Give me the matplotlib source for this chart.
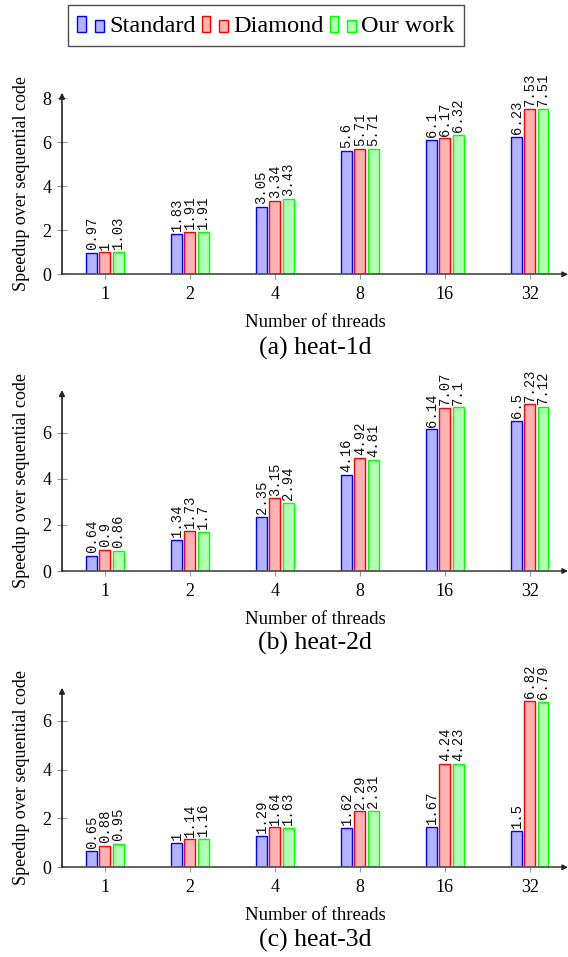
import matplotlib
matplotlib.use("Agg")
import matplotlib.pyplot as plt
from matplotlib.legend_handler import HandlerBase
from matplotlib.patches import Rectangle
import numpy as np

threads = ["1", "2", "4", "8", "16", "32"]
series_names = ["Standard", "Diamond", "Our work"]

heat1d_standard = [0.97, 1.83, 3.05, 5.6, 6.1, 6.23]
heat1d_diamond = [1, 1.91, 3.34, 5.71, 6.17, 7.53]
heat1d_ours = [1.03, 1.91, 3.43, 5.71, 6.32, 7.51]

heat2d_standard = [0.64, 1.34, 2.35, 4.16, 6.14, 6.5]
heat2d_diamond = [0.9, 1.73, 3.15, 4.92, 7.07, 7.23]
heat2d_ours = [0.86, 1.7, 2.94, 4.81, 7.1, 7.12]

heat3d_standard = [0.65, 1, 1.29, 1.62, 1.67, 1.5]
heat3d_diamond = [0.88, 1.14, 1.64, 2.29, 4.24, 6.82]
heat3d_ours = [0.95, 1.16, 1.63, 2.31, 4.23, 6.79]

captions = ["(a) heat-1d", "(b) heat-2d", "(c) heat-3d"]

edge_colors = ["#0000ff", "#ff0000", "#00ff00"]
fill_colors = ["#b3b3ff", "#ffb3b3", "#b3ffb3"]

SERIF = ["Liberation Serif", "DejaVu Serif"]
MONO = ["Liberation Mono", "DejaVu Sans Mono"]
plt.rcParams["font.family"] = SERIF

fig = plt.figure(figsize=(5.68, 9.57), dpi=100)
W, H = 568.0, 957.0

panels = [
    ([heat1d_standard, heat1d_diamond, heat1d_ours], 274.3, 92.7, 8.25, [0, 2, 4, 6, 8]),
    ([heat2d_standard, heat2d_diamond, heat2d_ours], 571.0, 390.0, 7.85, [0, 2, 4, 6]),
    ([heat3d_standard, heat3d_diamond, heat3d_ours], 867.3, 687.7, 7.36, [0, 2, 4, 6]),
]

axis_color = "#555555"
x = np.arange(len(threads))
offset = 0.156
bw = 0.129

for idx, (data, ybot, ytop, ymax, yticks) in enumerate(panels):
    left = 62 / W
    ax = fig.add_axes([left, 1 - ybot / H, 1 - left, (ybot - ytop) / H])
    for s, vals in enumerate(data):
        xs = x + (s - 1) * offset
        ax.bar(xs, vals, width=bw, color=fill_colors[s], edgecolor=edge_colors[s],
               linewidth=1.0, zorder=3)
        for xi, v in zip(xs, vals):
            ax.annotate(f"{v:g}", (xi, v), xytext=(0, 2), textcoords="offset points",
                        rotation=90, ha="center", va="bottom", fontsize=10,
                        family=MONO, color="#111111")
    ax.set_xlim(-0.505, 5.45)
    ax.set_ylim(0, ymax)
    for sp in ax.spines.values():
        sp.set_visible(False)
    ax.set_xticks(x)
    ax.set_xticklabels(threads)
    ax.set_yticks(yticks)
    ax.tick_params(axis="both", direction="inout", length=7, width=0.8,
                   color="#999999", labelsize=13, pad=5)
    ax.tick_params(axis="y", pad=4)
    ax.annotate("", xy=(0, 1), xytext=(0, 0), xycoords="axes fraction",
                arrowprops=dict(arrowstyle="-|>", color="#222222", lw=1.2,
                                mutation_scale=8, shrinkA=0, shrinkB=0), zorder=5)
    ax.plot([0, 0.995], [0, 0], transform=ax.transAxes, color=axis_color, lw=1.3,
            zorder=4, clip_on=False)
    ax.annotate("", xy=(1.0, 0), xytext=(0.99, 0), xycoords="axes fraction",
                arrowprops=dict(arrowstyle="-|>", color="#222222", lw=1.0,
                                mutation_scale=8, shrinkA=0, shrinkB=0), zorder=5)
    ax.set_xlabel("Number of threads", fontsize=13.5, labelpad=8)
    ax.set_ylabel("Speedup over sequential code", fontsize=13, labelpad=9)
    fig.text(315 / W, 1 - [348, 643, 940][idx] / H, captions[idx], ha="center",
             va="center", fontsize=18.5)


class TwoBarHandler(HandlerBase):
    def __init__(self, fc, ec):
        super().__init__()
        self.fc = fc
        self.ec = ec

    def create_artists(self, legend, orig_handle, xdescent, ydescent, width, height,
                       fontsize, trans):
        h = height * 0.95
        w = width * 0.33
        y0 = -ydescent - 0.05 * height
        r1 = Rectangle((-xdescent, y0), w, h,
                       facecolor=self.fc, edgecolor=self.ec, lw=1.0, transform=trans)
        r2 = Rectangle((-xdescent + width * 0.67, y0), w, h * 0.75,
                       facecolor=self.fc, edgecolor=self.ec, lw=1.0, transform=trans)
        return [r1, r2]


handles = [Rectangle((0, 0), 1, 1) for _ in series_names]
hmap = {h: TwoBarHandler(fill_colors[i], edge_colors[i]) for i, h in enumerate(handles)}
leg = fig.legend(handles, series_names, handler_map=hmap, loc="center",
                 bbox_to_anchor=(266 / W, 1 - 25.5 / H), ncol=3, fontsize=17.5,
                 frameon=True, fancybox=False, edgecolor="#222222", handlelength=1.1,
                 handletextpad=0.2, columnspacing=0.25, borderpad=0.4,
                 borderaxespad=0)
leg.get_frame().set_linewidth(1.0)

fig.savefig("out.png", dpi=100)
